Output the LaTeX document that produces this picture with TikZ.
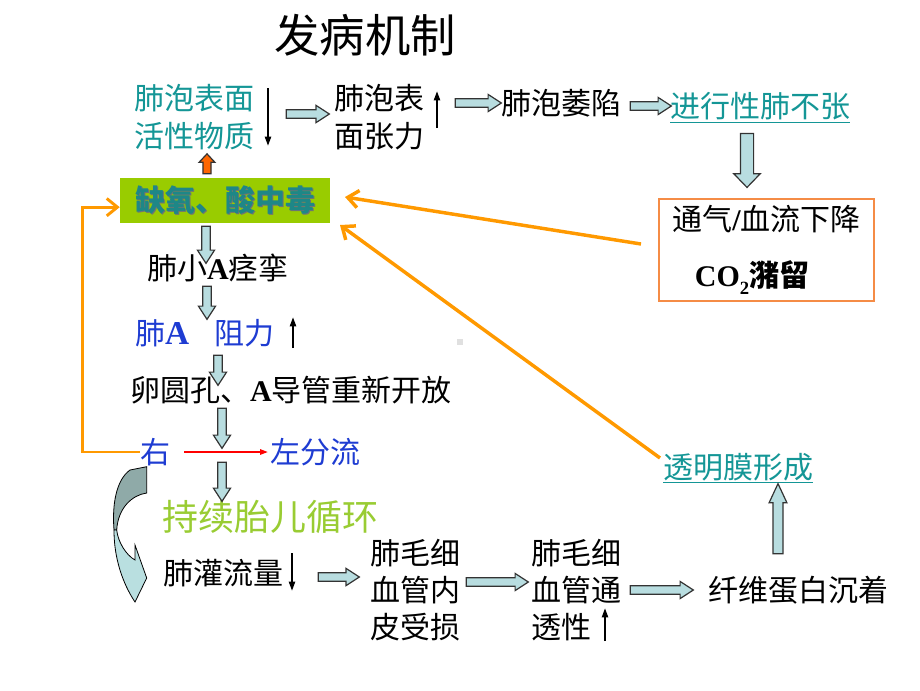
\documentclass[tikz,border=0pt]{standalone}
\usepackage{fontspec}
\setmainfont{Noto Sans CJK SC}
\newfontfamily\tms{Liberation Serif}
\usetikzlibrary{shapes.arrows,calc,arrows.meta}
\definecolor{teal1}{RGB}{20,150,150}
\definecolor{blue1}{RGB}{30,60,210}
\definecolor{ygreen}{RGB}{153,204,51}
\definecolor{boxgreen}{RGB}{153,204,0}
\definecolor{gbtext}{RGB}{30,135,135}
\definecolor{orange1}{RGB}{255,153,0}
\definecolor{boxorange}{RGB}{245,140,70}
\definecolor{blkfill}{RGB}{184,221,224}
\definecolor{redorange}{RGB}{255,102,0}
\definecolor{cdark}{RGB}{143,170,168}
\definecolor{clight}{RGB}{185,223,224}
\begin{document}
\begin{tikzpicture}[x=0.75pt,y=-0.75pt,
  txt/.style={inner sep=0pt, align=center, font=\fontsize{22.5}{28}\selectfont},
  blkshape/.style={single arrow, draw=black!80, fill=blkfill, line width=0.9pt,
    inner xsep=0pt, inner ysep=2.8pt, single arrow head extend=3.2pt,
    single arrow tip angle=66, anchor=center},
  blk/.style={to path={let \p1=($(\tikztotarget)-(\tikztostart)$),
      \n1={veclen(\x1,\y1)}, \n2={atan2(\y1,\x1)} in
      node[blkshape, minimum height=\n1, rotate=\n2, #1]
      at ($(\tikztostart)!0.5!(\tikztotarget)$) {} (\tikztotarget)}},
  blk/.default={},
  thinar/.style={line width=1.6pt, -{Triangle[length=7pt,width=4.5pt]}},
  oar/.style={draw=orange1, line width=2.6pt, -{Straight Barb[length=8pt,width=13pt]}},
]
\useasboundingbox (0,0) rectangle (920,690);

% texts
\node[txt, font=\fontsize{34}{40}\selectfont] (title) at (365,35) {发病机制};
\node[txt, teal1] (pa) at (194,117) {肺泡表面\\活性物质};
\node[txt] (zl) at (379,117) {肺泡表\\面张力};
\node[txt] (wx) at (561,103) {肺泡萎陷};
\node[txt, teal1, anchor=base] (bz) at (760,117.5) {\underline{进行性肺不张}};
\node[draw=boxorange, line width=1.5pt, minimum width=161pt, minimum height=76.5pt,
      inner sep=0pt, align=left, font=\fontsize{22.5}{28}\selectfont] (qx) at (766.5,250)
  {通气{\tms\bfseries/}血流下降\\[14pt]\hspace*{0.75em}{\tms\bfseries CO\raisebox{-0.25em}{\fontsize{14}{14}\selectfont 2}}{\bfseries 潴留}};
\node[fill=boxgreen, minimum width=157.5pt, minimum height=33.75pt, inner sep=0pt,
      font=\bfseries\fontsize{22.5}{28}\selectfont, text=gbtext] (gb) at (225,200.5)
  {\makebox[0pt][l]{\hspace{1.3pt}\raisebox{-1.3pt}{\color{black!55}缺氧、酸中毒}}缺氧、酸中毒};
\node[txt] (xa) at (218,268) {肺小{\tms\bfseries A}痉挛};
\node[txt, blue1] (zl2) at (205,333) {肺{\tms\bfseries\fontsize{25}{28}\selectfont A}\hspace{0.85em}阻力};
\node[txt] (ly) at (291,390) {卵圆孔、{\tms\bfseries A}导管重新开放};
\node[txt, blue1] (you) at (155,452) {右};
\node[txt, blue1] (zf) at (315,452) {左分流};
\node[txt, ygreen, font=\fontsize{27}{32}\selectfont] (cx) at (270,517) {持续胎儿循环};
\node[txt] (gl) at (223,573) {肺灌流量};
\node[txt] (mx1) at (415,590) {肺毛细\\血管内\\皮受损};
\node[txt, align=left] (mx2) at (576,590) {肺毛细\\血管通\\透性};
\node[txt] (xw) at (798,590) {纤维蛋白沉着};
\node[txt, teal1, anchor=base] (tm) at (738,478) {\underline{透明膜形成}};

% small grey square
\fill[black!12] (457,339) rectangle (463,345);

% coordinates for block arrows
\coordinate (b1s) at (283,114); \coordinate (b1e) at (326,114);
\coordinate (b2s) at (452,103); \coordinate (b2e) at (498,103);
\coordinate (b3s) at (627,106); \coordinate (b3e) at (668,106);
\coordinate (b4s) at (747,130); \coordinate (b4e) at (747,184);
\coordinate (b5s) at (207,176); \coordinate (b5e) at (207,156);
\coordinate (b6s) at (206,223); \coordinate (b6e) at (206,260);
\coordinate (b7s) at (207,283); \coordinate (b7e) at (207,316);
\coordinate (b8s) at (218,352); \coordinate (b8e) at (218,382);
\coordinate (b9s) at (222,405); \coordinate (b9e) at (222,445);
\coordinate (b10s) at (222,459); \coordinate (b10e) at (222,498);
\coordinate (b11s) at (315,577); \coordinate (b11e) at (356,577);
\coordinate (b12s) at (463,582); \coordinate (b12e) at (525,582);
\coordinate (b13s) at (627,590); \coordinate (b13e) at (690,590);
\coordinate (b14s) at (778,559); \coordinate (b14e) at (778,489);

\path (b1s) to[blk] (b1e);
\path (b2s) to[blk] (b2e);
\path (b3s) to[blk] (b3e);
\path (b4s) to[blk={inner ysep=4.5pt, single arrow head extend=4.9pt, single arrow tip angle=88}] (b4e);
\path (b5s) to[blk={fill=redorange, inner ysep=2.6pt, single arrow head extend=2.9pt, single arrow tip angle=86}] (b5e);
\path (b6s) to[blk] (b6e);
\path (b7s) to[blk] (b7e);
\path (b8s) to[blk] (b8e);
\path (b9s) to[blk] (b9e);
\path (b10s) to[blk] (b10e);
\path (b11s) to[blk] (b11e);
\path (b12s) to[blk] (b12e);
\path (b13s) to[blk] (b13e);
\path (b14s) to[blk={inner ysep=3.3pt, single arrow head extend=2.9pt, single arrow tip angle=50}] (b14e);

% thin black arrows
\coordinate (t1s) at (268,88);  \coordinate (t1e) at (268,146);
\coordinate (t2s) at (437,128); \coordinate (t2e) at (437,91);
\coordinate (t3s) at (293,348); \coordinate (t3e) at (293,317);
\coordinate (t4s) at (292,553); \coordinate (t4e) at (292,591);
\coordinate (t5s) at (605,641); \coordinate (t5e) at (605,608);
\draw[thinar] (t1s) -- (t1e);
\draw[thinar] (t2s) -- (t2e);
\draw[thinar] (t3s) -- (t3e);
\draw[thinar] (t4s) -- (t4e);
\draw[thinar] (t5s) -- (t5e);

% red shunt arrow
\coordinate (rs) at (184,452); \coordinate (re) at (268,452);
\draw[red, line width=1.3pt, -{Triangle[length=6pt,width=4pt]}] (rs) -- (re);

% orange feedback arrows
\coordinate (o1s) at (641,244); \coordinate (o1e) at (345,197);
\coordinate (o2s) at (660,458); \coordinate (o2e) at (340,225);
\draw[oar] (o1s) -- (o1e);
\draw[oar] (o2s) -- (o2e);
\draw[oar, line width=2.2pt] (you.west) -- ++(-57,0) |- ([yshift=-5pt]gb.west);

% curved arrow
\filldraw[fill=cdark, draw=black, line width=0.6pt]
  (130,470) -- (146.7,466.7) -- (146.7,493) .. controls (132,495) and (118,508) .. (116.7,530)
  -- (114,530) .. controls (112,505) and (116,480) .. (130,470) -- cycle;
\filldraw[fill=clight, draw=black, line width=0.6pt]
  (116.7,530) .. controls (118,542) and (126,555) .. (135,560) -- (135,545) -- (146.7,578)
  -- (135,602) .. controls (127,590) and (114,565) .. (114,530) -- cycle;
\end{tikzpicture}
\end{document}
